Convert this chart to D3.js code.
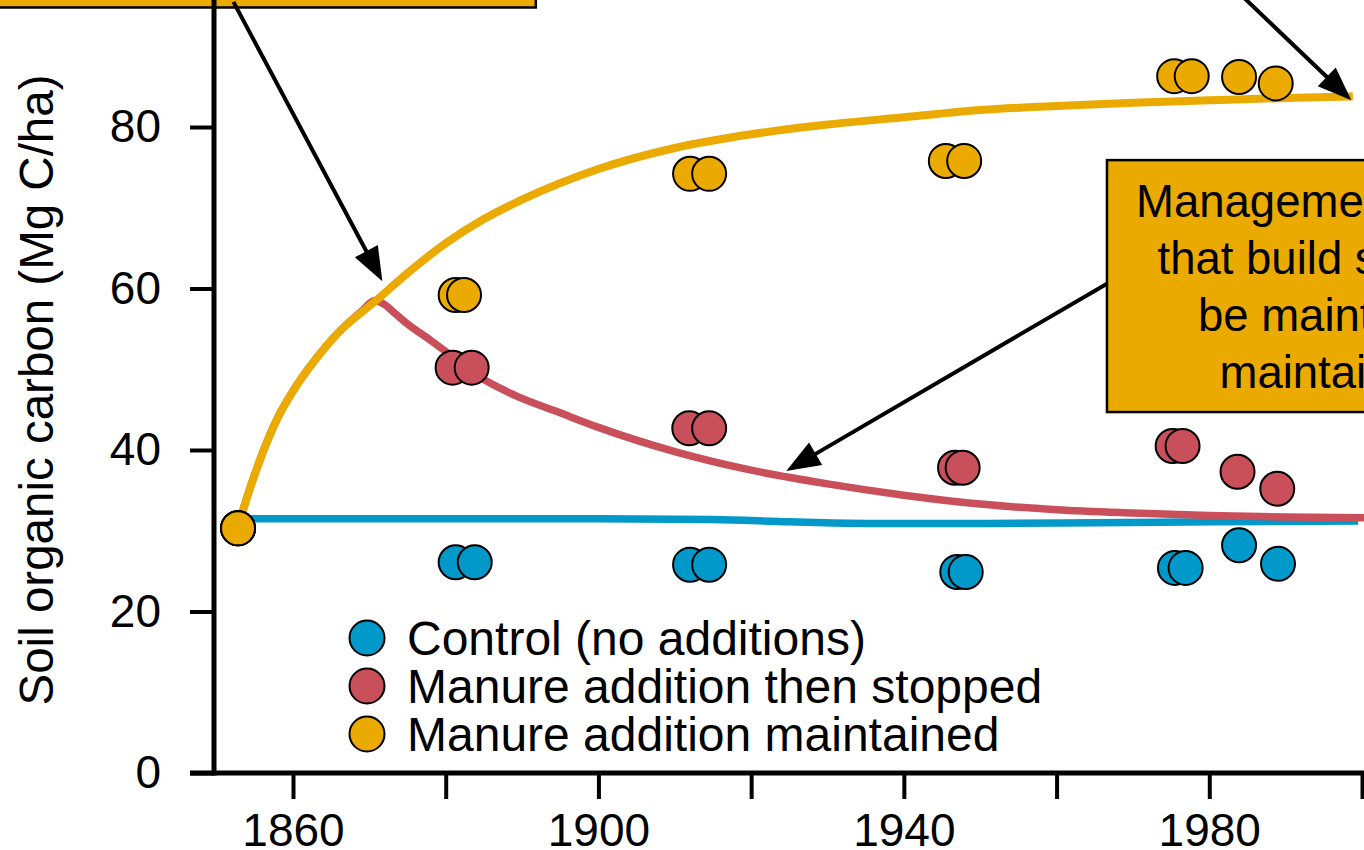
<!DOCTYPE html>
<html>
<head>
<meta charset="utf-8">
<script src="https://cdn.jsdelivr.net/npm/d3@7"></script>
<style>
  html, body { margin: 0; padding: 0; background: #fff; }
  svg { display: block; font-family: "Liberation Sans", Arial, sans-serif; }
</style>
</head>
<body>
<svg id="chart" width="1364" height="850"></svg>
<script>
// Soil organic carbon under three long-term treatments

// Observed plot means (year, Mg C/ha)
const controlYears   = [1852.8, 1881.3, 1883.8, 1912.0, 1914.5, 1947.0, 1948.1, 1975.5, 1976.9, 1983.9, 1989.0];
const controlSOC     = [30.3, 26.1, 26.1, 25.8, 25.8, 24.9, 24.9, 25.4, 25.4, 28.2, 25.9];
const stoppedYears   = [1852.8, 1880.9, 1883.4, 1911.9, 1914.5, 1946.7, 1947.7, 1975.2, 1976.5, 1983.7, 1988.9];
const stoppedSOC     = [30.3, 50.2, 50.2, 42.7, 42.7, 37.8, 37.8, 40.5, 40.5, 37.3, 35.2];
const maintainedYears = [1852.8, 1881.3, 1882.4, 1912.0, 1914.5, 1945.5, 1947.9, 1975.4, 1977.7, 1983.9, 1988.7];
const maintainedSOC   = [30.3, 59.2, 59.2, 74.2, 74.2, 75.8, 75.8, 86.3, 86.3, 86.2, 85.4];

// Modelled trajectories (year, Mg C/ha)
const controlModelYears = [1852.8, 1880, 1900, 1915, 1925, 1935, 1950, 1965, 1980, 1999.5];
const controlModelSOC   = [31.5, 31.5, 31.5, 31.4, 31.1, 30.9, 30.9, 31.0, 31.1, 31.2];
const stoppedModelYears = [1852.8, 1854, 1856, 1858, 1860, 1863, 1866, 1869, 1870.7, 1872, 1873.5, 1875, 1878, 1880, 1884, 1889, 1895, 1900, 1910, 1920, 1930, 1940, 1950, 1960, 1970, 1980, 1990, 2000.5];
const stoppedModelSOC   = [30.5, 34.2, 39.6, 44.0, 47.3, 51.3, 54.6, 57.2, 58.5, 58.0, 56.8, 55.6, 53.6, 52.2, 49.3, 46.8, 44.6, 42.8, 39.8, 37.5, 35.8, 34.4, 33.3, 32.6, 32.2, 31.9, 31.7, 31.6];
const maintainedModelYears = [1852.8, 1854, 1856, 1858, 1860, 1863, 1866, 1871, 1875, 1880, 1885, 1890, 1900, 1910, 1920, 1930, 1940, 1950, 1960, 1970, 1980, 1990, 1998.8];
const maintainedModelSOC   = [30.5, 34.2, 39.6, 44.0, 47.3, 51.3, 54.6, 58.6, 61.9, 65.6, 68.6, 71.0, 74.8, 77.4, 79.1, 80.3, 81.2, 82.1, 82.6, 83.0, 83.3, 83.6, 83.8];

// Axis ticks
const yTicks = [0, 20, 40, 60, 80];
const xTicks = [1860, 1880, 1900, 1920, 1940, 1960, 1980, 2000];
const xTickLabels = [1860, 1900, 1940, 1980];

const legendLabels = ["Control (no additions)", "Manure addition then stopped", "Manure addition maintained"];
const boxLines = ["Management practices", "that build soil carbon", "be maintained to", "maintain gains"];

const colors = { control: "#0099C9", stopped: "#C9505A", maintained: "#EBAA00" };

const svg = d3.select("#chart");

const x = d3.scaleLinear().domain([1860, 2000]).range([293, 1362]);
const y = d3.scaleLinear().domain([0, 100]).range([773, -34.5]);

const zip = (xs, ys) => xs.map((v, i) => [v, ys[i]]);

// ---- annotation boxes (drawn first, behind axes) ----
svg.append("rect")
  .attr("x", x(1820)).attr("y", y(110))
  .attr("width", x(1891.8) - x(1820)).attr("height", y(94.8) - y(110))
  .attr("fill", colors.maintained).attr("stroke", "#000").attr("stroke-width", 2.5);

const bx0 = x(1966.6), bx1 = x(2034.5), by0 = y(75.9), by1 = y(44.7);
svg.append("rect")
  .attr("x", bx0).attr("y", by0)
  .attr("width", bx1 - bx0).attr("height", by1 - by0)
  .attr("fill", colors.maintained).attr("stroke", "#000").attr("stroke-width", 2.5);

const boxCx = (bx0 + bx1) / 2;
svg.append("g").selectAll("text").data(boxLines).join("text")
  .attr("x", boxCx)
  .attr("y", (d, i) => 217 + i * 57)
  .attr("text-anchor", "middle")
  .attr("font-size", 45.5)
  .attr("fill", "#000")
  .text(d => d);

// ---- axes ----
const yAxis = d3.axisLeft(y).tickValues(yTicks).tickSize(24).tickPadding(29);
const gy = svg.append("g").attr("transform", "translate(214,0)").call(yAxis);
gy.select(".domain").remove();
gy.append("line").attr("x1", 0).attr("x2", 0).attr("y1", -10).attr("y2", 775.5)
  .attr("stroke", "#000").attr("stroke-width", 5);
gy.selectAll(".tick line").attr("stroke", "#000").attr("stroke-width", 4);
gy.selectAll(".tick text").attr("font-size", 46).attr("fill", "#000")
  .attr("font-family", "Liberation Sans, Arial, sans-serif");

const xAxis = d3.axisBottom(x).tickValues(xTicks).tickSize(26)
  .tickFormat(d => xTickLabels.includes(d) ? d : "");
const gx = svg.append("g").attr("transform", "translate(0,773)").call(xAxis);
gx.select(".domain").remove();
gx.append("line").attr("x1", 190).attr("x2", 1370).attr("y1", 0).attr("y2", 0)
  .attr("stroke", "#000").attr("stroke-width", 5);
gx.selectAll(".tick line").attr("stroke", "#000").attr("stroke-width", 4);
gx.selectAll(".tick text").attr("font-size", 46).attr("fill", "#000")
  .attr("font-family", "Liberation Sans, Arial, sans-serif")
  .attr("y", 73).attr("dy", 0);

svg.append("text")
  .attr("transform", "translate(53,390) rotate(-90)")
  .attr("text-anchor", "middle")
  .attr("font-size", 47.5)
  .attr("fill", "#000")
  .text("Soil organic carbon (Mg C/ha)");

// ---- model curves ----
const line = d3.line().x(d => x(d[0])).y(d => y(d[1])).curve(d3.curveMonotoneX);
const curves = [
  { key: "control", pts: zip(controlModelYears, controlModelSOC) },
  { key: "stopped", pts: zip(stoppedModelYears, stoppedModelSOC) },
  { key: "maintained", pts: zip(maintainedModelYears, maintainedModelSOC) }
];
svg.append("g").selectAll("path").data(curves).join("path")
  .attr("d", d => line(d.pts))
  .attr("fill", "none")
  .attr("stroke", d => colors[d.key])
  .attr("stroke-width", d => d.key === "maintained" ? 8 : 7.5)
  .attr("stroke-linejoin", "round");

// ---- arrows ----
function arrow(g, x1, y1, x2, y2) {
  const dx = x2 - x1, dy = y2 - y1, len = Math.hypot(dx, dy);
  const ux = dx / len, uy = dy / len, head = 34, half = 13;
  const bx = x2 - ux * head, by = y2 - uy * head;
  g.append("line").attr("x1", x1).attr("y1", y1).attr("x2", bx + ux * 2).attr("y2", by + uy * 2)
    .attr("stroke", "#000").attr("stroke-width", 4);
  g.append("path")
    .attr("d", `M${x2},${y2}L${bx - uy * half},${by + ux * half}L${bx + uy * half},${by - ux * half}Z`)
    .attr("fill", "#000");
}
const ga = svg.append("g");
arrow(ga, x(1852.2), y(95.5), x(1871.7), y(60.9));
arrow(ga, x(1984.0), y(96.5), x(1998.6), y(83.3));
arrow(ga, x(1966.6), y(60.6), x(1924.6), y(37.4));

// ---- observations ----
const series = [
  { key: "control", pts: zip(controlYears, controlSOC) },
  { key: "stopped", pts: zip(stoppedYears, stoppedSOC) },
  { key: "maintained", pts: zip(maintainedYears, maintainedSOC) }
];
series.forEach(s => {
  svg.append("g").selectAll("circle").data(s.pts).join("circle")
    .attr("cx", d => x(d[0])).attr("cy", d => y(d[1]))
    .attr("r", 17)
    .attr("fill", colors[s.key])
    .attr("stroke", "#000").attr("stroke-width", 2);
});

// ---- legend ----
const keys = ["control", "stopped", "maintained"];
const lg = svg.append("g").attr("transform", "translate(367,638)");
keys.forEach((k, i) => {
  lg.append("circle").attr("cx", 0).attr("cy", i * 48).attr("r", 17.5)
    .attr("fill", colors[k]).attr("stroke", "#000").attr("stroke-width", 2);
  lg.append("text").attr("x", 40).attr("y", i * 48 + 17)
    .attr("font-size", 48).attr("fill", "#000").text(legendLabels[i]);
});
</script>
</body>
</html>
